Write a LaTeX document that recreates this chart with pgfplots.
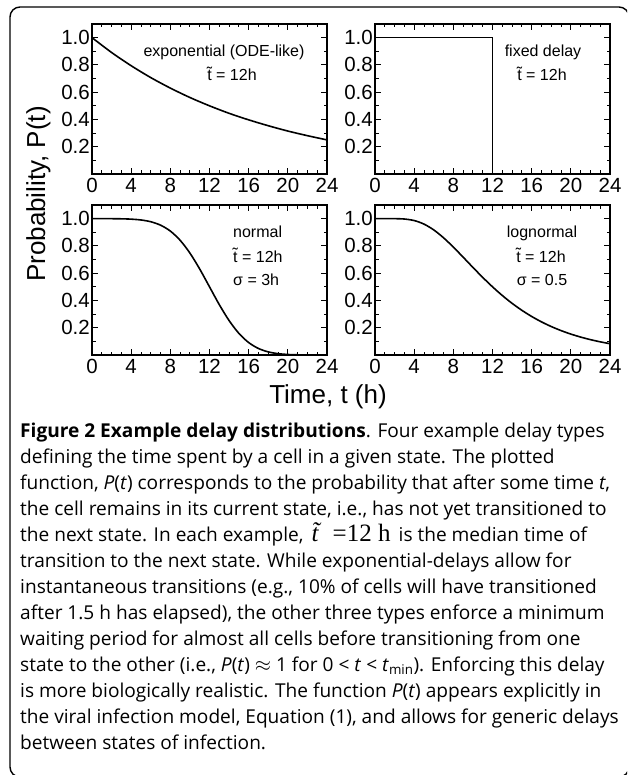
\documentclass[border=0pt]{standalone}
\usepackage{fontspec}
\setmainfont{Liberation Sans}
\newfontfamily\capfont{Open Sans}
\newfontfamily\serifm{Liberation Serif}
\usepackage{pgfplots}
\pgfplotsset{compat=1.18}
\pgfplotsset{
  panel/.style={
    scale only axis, width=235pt, height=150pt, anchor=north west,
    xmin=0, xmax=24, ymin=0, ymax=1.1,
    xtick={0,4,8,12,16,20,24}, minor x tick num=3,
    ytick={0.2,0.4,0.6,0.8,1.0}, minor ytick={0.1,0.3,0.5,0.7,0.9},
    tick align=inside, major tick length=6pt, minor tick length=3.5pt,
    axis line style={line width=1.2pt},
    every tick/.style={black, line width=0.9pt},
    /pgf/number format/assume math mode=true,
    tick label style={font=\fontsize{20.5}{24}\selectfont},
    xticklabel style={yshift=-1pt},
    yticklabel style={/pgf/number format/fixed, /pgf/number format/fixed zerofill, /pgf/number format/precision=1, inner xsep=2pt},
    clip=true,
  },
  curve/.style={black, line width=1.6pt, no markers},
}
\newcommand{\capl}[2]{\node[anchor=base west, inner sep=0pt] at (20,-#1) {\capfont\fontsize{19.1}{26}\selectfont #2};}
\begin{document}
\begin{tikzpicture}[x=1pt,y=1pt]
\useasboundingbox (0,0) rectangle (627,-775);
\begin{scope}
\clip (0,0) rectangle (627,-775);
\draw[line width=1.4pt, rounded corners=10pt] (10,-7) rectangle (629,-777);
\end{scope}

% top-left: exponential
\begin{axis}[panel, at={(92pt,-24pt)}]
\addplot[curve, smooth] coordinates {
(0,1.000) (2,0.891) (4,0.794) (6,0.707) (8,0.630) (10,0.561) (12,0.500)
(14,0.445) (16,0.397) (18,0.354) (20,0.315) (22,0.281) (24,0.250)};
\end{axis}

% top-right: fixed delay
\begin{axis}[panel, at={(375pt,-24pt)}]
\addplot[curve] coordinates {(0,1) (12,1) (12,0)};
\end{axis}

% bottom-left: normal
\begin{axis}[panel, at={(92pt,-205pt)}]
\addplot[curve, smooth] coordinates {
(0,1.0000) (1,0.9999) (2,0.9996) (3,0.9987) (4,0.9962) (5,0.9902) (6,0.9773)
(7,0.9522) (8,0.9088) (9,0.8413) (10,0.7475) (11,0.6306) (12,0.5000)
(13,0.3694) (14,0.2525) (15,0.1587) (16,0.0912) (17,0.0478) (18,0.0228)
(19,0.0098) (20,0.0038) (21,0.0014) (22,0.0004) (23,0.0001) (24,0.0000)};
\end{axis}

% bottom-right: lognormal
\begin{axis}[panel, at={(375pt,-205pt)}]
\addplot[curve, smooth] coordinates {
(0,1.0000) (1,1.0000) (2,0.9998) (3,0.9972) (4,0.9860) (5,0.9600) (6,0.9172)
(7,0.8595) (8,0.7913) (9,0.7175) (10,0.6423) (11,0.5691) (12,0.5000)
(13,0.4364) (14,0.3789) (15,0.3277) (16,0.2825) (17,0.2430) (18,0.2087)
(19,0.1790) (20,0.1535) (21,0.1315) (22,0.1127) (23,0.0966) (24,0.0828)};
\end{axis}

% panel annotations
\begin{scope}[every node/.style={inner sep=0pt, font=\fontsize{16}{19}\selectfont}]
\node[anchor=base] at (224,-57) {exponential (ODE-like)};
\node[anchor=base] at (232,-81) {\~{t} = 12h};
\node[anchor=base] at (543,-57) {fixed delay};
\node[anchor=base] at (542,-81) {\~{t} = 12h};
\node[anchor=base west] at (233,-238) {normal};
\node[anchor=base west] at (233,-262) {\~{t} = 12h};
\node[anchor=base west] at (233,-285) {σ = 3h};
\node[anchor=base] at (542,-238) {lognormal};
\node[anchor=base] at (541,-262) {\~{t} = 12h};
\node[anchor=base] at (542,-285) {σ = 0.5};
\end{scope}

% axis labels
\node[rotate=90, anchor=base, inner sep=0pt, font=\fontsize{26}{30}\selectfont] at (45,-194) {Probability, P(t)};
\node[anchor=base, inner sep=0pt, font=\fontsize{26}{30}\selectfont] at (328,-403) {Time, t (h)};

% caption
\capl{437}{\textbf{Figure 2 Example delay distributions}. Four example delay types}
\capl{463}{defining the time spent by a cell in a given state. The plotted}
\capl{489}{function, \textit{P}(\textit{t}) corresponds to the probability that after some time \textit{t},}
\capl{515}{the cell remains in its current state, i.e., has not yet transitioned to}
\capl{541}{the next state. In each example, \,{\serifm\fontsize{25}{26}\selectfont\textit{\~{t}}\,=12 h}\, is the median time of}
\capl{567}{transition to the next state. While exponential-delays allow for}
\capl{593}{instantaneous transitions (e.g., 10\% of cells will have transitioned}
\capl{619}{after 1.5 h has elapsed), the other three types enforce a minimum}
\capl{645}{waiting period for almost all cells before transitioning from one}
\capl{671}{state to the other (i.e., \textit{P}(\textit{t}) $\approx$ 1 for 0 < \textit{t} < \textit{t}\textsubscript{min}). Enforcing this delay}
\capl{697}{is more biologically realistic. The function \textit{P}(\textit{t}) appears explicitly in}
\capl{723}{the viral infection model, Equation (1), and allows for generic delays}
\capl{749}{between states of infection.}
\end{tikzpicture}
\end{document}
